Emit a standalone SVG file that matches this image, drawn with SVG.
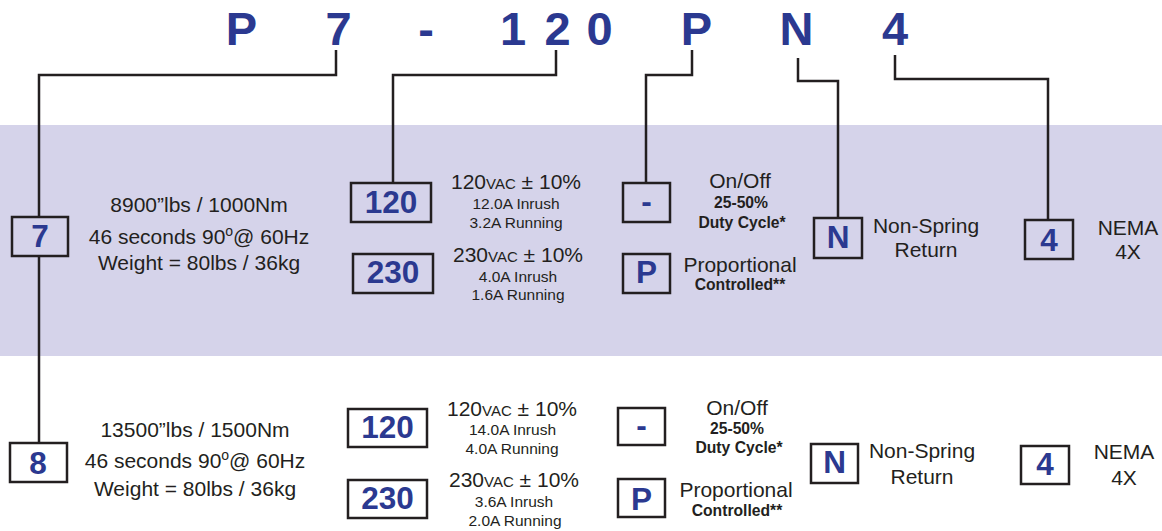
<svg xmlns="http://www.w3.org/2000/svg" width="1162" height="531" viewBox="0 0 1162 531">
<style>
.t{font-family:"Liberation Sans",Arial,sans-serif;fill:#231f20;text-anchor:middle}
.n{font-size:21px}
.s{font-size:15.5px}
.b{font-size:15.7px;font-weight:bold}
.code{font-family:"Liberation Sans",Arial,sans-serif;font-weight:bold;fill:#2b3990;text-anchor:middle;font-size:47px}
.lbl{font-family:"Liberation Sans",Arial,sans-serif;font-weight:bold;fill:#2b3990;text-anchor:middle;font-size:31.5px}
.box{fill:none;stroke:#231f20;stroke-width:2.5}
.wl{fill:none;stroke:#231f20;stroke-width:2.5}
</style>
<rect x="0" y="0" width="1162" height="531" fill="#ffffff"/>
<rect x="0" y="125" width="1162" height="231" fill="#d5d3ea"/>

<g id="title">
<text class="code" x="241.5" y="45">P</text>
<text class="code" x="338.5" y="45">7</text>
<text class="code" x="426" y="45">-</text>
<text class="code" x="513" y="45">1</text>
<text class="code" x="557.5" y="45">2</text>
<text class="code" x="599.5" y="45">0</text>
<text class="code" x="696.5" y="45">P</text>
<text class="code" x="796.5" y="45">N</text>
<text class="code" x="895" y="45">4</text>
</g>

<g id="connectors">
<path class="wl" d="M336 50 V75 H39 V217"/>
<path class="wl" d="M39 256 V443"/>
<path class="wl" d="M556 50 V75 H393 V183"/>
<path class="wl" d="M692 50 V75 H646 V183"/>
<path class="wl" d="M798 58 V81 H838 V218"/>
<path class="wl" d="M895 55 V79 H1048 V220"/>
</g>

<!-- Row 1 -->
<g id="node-7">
<rect class="box" x="12" y="217" width="56" height="39"/>
<text class="lbl" x="40" y="247">7</text>
</g>
<g id="spec-7">
<text class="t n" x="199" y="212">8900”lbs / 1000Nm</text>
<text class="t n" x="199" y="244">46 seconds 90<tspan font-size="14" dy="-8">o</tspan><tspan dy="8">@ 60Hz</tspan></text>
<text class="t n" x="199" y="270">Weight = 80lbs / 36kg</text>
</g>
<g id="node-120a">
<rect class="box" x="351" y="183" width="80" height="39"/>
<text class="lbl" x="391" y="213">120</text>
<text class="t n" x="516" y="189">120<tspan font-size="15">VAC</tspan> ± 10%</text>
<text class="t s" x="516" y="209">12.0A Inrush</text>
<text class="t s" x="516" y="228">3.2A Running</text>
</g>
<g id="node-230a">
<rect class="box" x="353" y="254" width="80" height="39"/>
<text class="lbl" x="393" y="283">230</text>
<text class="t n" x="518" y="262">230<tspan font-size="15">VAC</tspan> ± 10%</text>
<text class="t s" x="518" y="282">4.0A Inrush</text>
<text class="t s" x="518" y="300">1.6A Running</text>
</g>
<g id="node-dash-a">
<rect class="box" x="623" y="183" width="47" height="39"/>
<text class="lbl" x="646.5" y="212">-</text>
<text class="t n" x="740" y="188">On/Off</text>
<text class="t b" x="741" y="208">25-50%</text>
<text class="t b" x="742" y="228">Duty Cycle*</text>
</g>
<g id="node-p-a">
<rect class="box" x="623" y="254" width="47" height="39"/>
<text class="lbl" x="646.5" y="283">P</text>
<text class="t n" x="740" y="272">Proportional</text>
<text class="t b" x="740" y="290">Controlled**</text>
</g>
<g id="node-n-a">
<rect class="box" x="814" y="218" width="48" height="40"/>
<text class="lbl" x="838" y="248">N</text>
<text class="t n" x="926" y="233">Non-Spring</text>
<text class="t n" x="926" y="257">Return</text>
</g>
<g id="node-4-a">
<rect class="box" x="1025" y="220" width="48" height="39"/>
<text class="lbl" x="1049" y="251">4</text>
<text class="t n" x="1128" y="235">NEMA</text>
<text class="t n" x="1128" y="259">4X</text>
</g>

<!-- Row 2 -->
<g id="node-8">
<rect class="box" x="10" y="443" width="57" height="39"/>
<text class="lbl" x="38" y="474">8</text>
</g>
<g id="spec-8">
<text class="t n" x="195" y="437">13500”lbs / 1500Nm</text>
<text class="t n" x="195" y="468">46 seconds 90<tspan font-size="14" dy="-8">o</tspan><tspan dy="8">@ 60Hz</tspan></text>
<text class="t n" x="195" y="496">Weight = 80lbs / 36kg</text>
</g>
<g id="node-120b">
<rect class="box" x="348" y="409" width="79" height="38"/>
<text class="lbl" x="387.5" y="438">120</text>
<text class="t n" x="512" y="416">120<tspan font-size="15">VAC</tspan> ± 10%</text>
<text class="t s" x="512.5" y="435">14.0A Inrush</text>
<text class="t s" x="512" y="454">4.0A Running</text>
</g>
<g id="node-230b">
<rect class="box" x="348" y="480" width="79" height="38"/>
<text class="lbl" x="387.5" y="509">230</text>
<text class="t n" x="514" y="487">230<tspan font-size="15">VAC</tspan> ± 10%</text>
<text class="t s" x="514" y="507">3.6A Inrush</text>
<text class="t s" x="515" y="526">2.0A Running</text>
</g>
<g id="node-dash-b">
<rect class="box" x="618" y="408" width="47" height="37"/>
<text class="lbl" x="641.5" y="436">-</text>
<text class="t n" x="737" y="415">On/Off</text>
<text class="t b" x="737" y="434">25-50%</text>
<text class="t b" x="739" y="453">Duty Cycle*</text>
</g>
<g id="node-p-b">
<rect class="box" x="618" y="479" width="47" height="38"/>
<text class="lbl" x="641.5" y="510">P</text>
<text class="t n" x="736" y="497">Proportional</text>
<text class="t b" x="737" y="516">Controlled**</text>
</g>
<g id="node-n-b">
<rect class="box" x="811" y="444" width="47" height="39"/>
<text class="lbl" x="834.5" y="473">N</text>
<text class="t n" x="922" y="458">Non-Spring</text>
<text class="t n" x="922" y="484">Return</text>
</g>
<g id="node-4-b">
<rect class="box" x="1021" y="446" width="48" height="38"/>
<text class="lbl" x="1045" y="475">4</text>
<text class="t n" x="1124" y="459">NEMA</text>
<text class="t n" x="1124" y="485">4X</text>
</g>
</svg>
